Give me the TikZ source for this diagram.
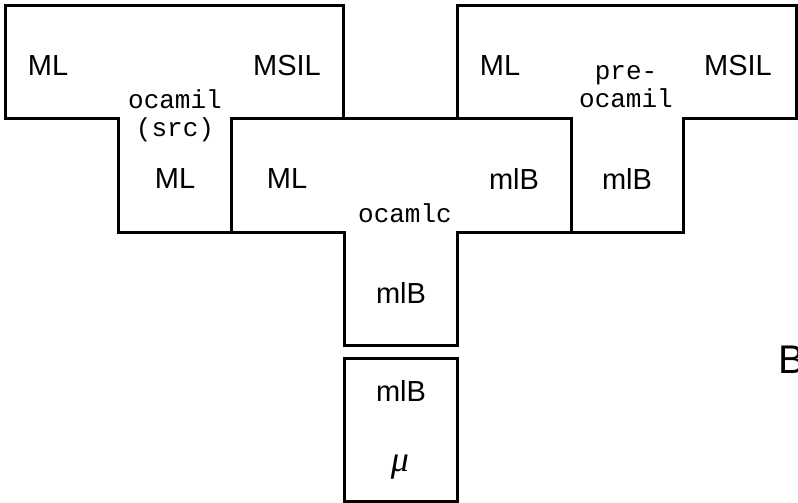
\documentclass[tikz,border=0pt]{standalone}
\usepackage{fontspec}
\setmainfont{Liberation Sans}
\setmonofont{Liberation Mono}
\newfontfamily\greekserif{Liberation Serif}
\begin{document}
\begin{tikzpicture}[x=1pt,y=-1pt,
  tee/.style={draw=black,line width=3pt,line join=miter},
  lang/.style={font=\fontsize{29}{32}\selectfont,inner sep=0pt},
  prog/.style={font=\fontsize{26}{28}\selectfont\ttfamily,inner sep=0pt,align=center},
  mach/.style={font=\fontsize{36}{38}\selectfont\greekserif\itshape,inner sep=0pt}]
\clip (0,0) rectangle (798,503);
\useasboundingbox (0,0) rectangle (798,503);
% compiler T: ocamil source, ML -> MSIL written in ML
\draw[tee] (5,6) -- (343,6) -- (343,118) -- (231,118) -- (231,232)
  -- (118,232) -- (118,118) -- (5,118) -- cycle;
% compiler T: ocamlc, ML -> mlB written in mlB
\draw[tee] (231,118) -- (571,118) -- (571,232) -- (457,232) -- (457,345)
  -- (344,345) -- (344,232) -- (231,232) -- cycle;
% compiler T: pre-ocamil, ML -> MSIL written in mlB
\draw[tee] (457,6) -- (796,6) -- (796,118) -- (683,118) -- (683,232)
  -- (571,232) -- (571,118) -- (457,118) -- cycle;
% machine running mlB
\draw[tee] (344,358) rectangle (457,501);

\node[lang] (s1) at (48,66) {ML};
\node[lang] (t1) at (287,66) {MSIL};
\node[prog] (p1) at (175,116) {ocamil\\(src)};
\node[lang] (i1) at (175,179) {ML};

\node[lang] (s2) at (287,179) {ML};
\node[lang] (t2) at (514,179) {mlB};
\node[prog] (p2) at (405,213) {ocamlc};
\node[lang] (i2) at (401,293) {mlB};

\node[lang] (s3) at (500,66) {ML};
\node[lang] (t3) at (738,66) {MSIL};
\node[prog] (p3) at (626,87) {pre-\\ocamil};
\node[lang] (i3) at (627,179) {mlB};

\node[lang] (m1) at (401,391) {mlB};
\node[mach] (m2) at (400,467) {μ};

\node[font=\fontsize{40}{44}\selectfont,inner sep=0pt,anchor=west] (b) at (778,360) {B};
\end{tikzpicture}
\end{document}
